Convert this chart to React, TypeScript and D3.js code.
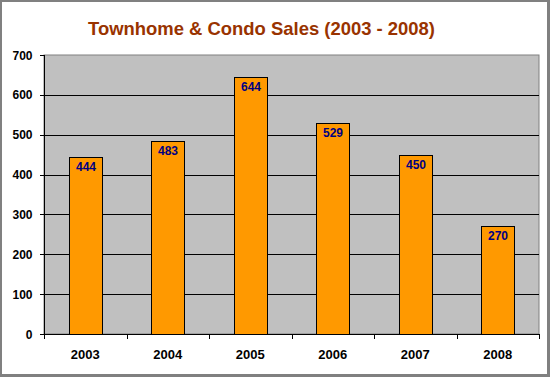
import React from "react";
import * as d3 from "d3";

const years = ["2003", "2004", "2005", "2006", "2007", "2008"];
const sales = [444, 483, 644, 529, 450, 270];
const yTicks = [0, 100, 200, 300, 400, 500, 600, 700];
const title = "Townhome & Condo Sales (2003 - 2008)";

export default function App() {
  const W = 550, H = 377;
  const left = 44, right = 539, top = 55, bottom = 334;
  const x = d3.scaleBand<string>().domain(years).range([left, right]).paddingInner(0.6).paddingOuter(0.3);
  const xb = d3.scaleBand<string>().domain(years).range([left, right]);
  const y = d3.scaleLinear().domain([0, 700]).range([bottom, top]);
  const font = "Arial, 'Liberation Sans', sans-serif";
  return (
    <svg width={W} height={H} style={{ position: "absolute", left: 0, top: 0 }} fontFamily={font}>
      <rect x={0} y={0} width={W} height={H} fill="#fff" />
      <rect x={1} y={1} width={W - 2.5} height={H - 2.5} fill="none" stroke="#808080" strokeWidth={2} />
      <rect x={547} y={0} width={3} height={H} fill="#808080" />
      <rect x={0} y={374} width={W} height={3} fill="#808080" />
      <text x={261.5} y={35} textAnchor="middle" fontSize={19} fontWeight="bold" fill="#993300" textLength={347} lengthAdjust="spacingAndGlyphs">{title}</text>
      <rect x={left} y={top} width={right - left} height={bottom - top} fill="#C0C0C0" stroke="#808080" strokeWidth={1} />
      {yTicks.filter(t => t > 0 && t < 700).map(t => (
        <line key={t} x1={left} x2={right} y1={Math.round(y(t)) + 0.5} y2={Math.round(y(t)) + 0.5} stroke="#000" />
      ))}
      {sales.map((v, i) => {
        const bx = Math.round(x(years[i])!) + 0.5;
        const by = Math.round(y(v)) + 0.5;
        const bw = Math.round(x.bandwidth());
        return (
          <g key={years[i]}>
            <rect x={bx} y={by} width={bw} height={bottom + 0.5 - by} fill="#FF9900" stroke="#000" />
            <text x={bx + bw / 2} y={by + 13} textAnchor="middle" fontSize={12} fontWeight="bold" fill="#000080">{v}</text>
          </g>
        );
      })}
      <line x1={left + 0.5} x2={left + 0.5} y1={top} y2={bottom + 0.5} stroke="#000" />
      <line x1={left} x2={right + 0.5} y1={bottom + 0.5} y2={bottom + 0.5} stroke="#000" />
      {yTicks.map(t => (
        <g key={t}>
          <line x1={left - 4} x2={left} y1={Math.round(y(t)) + 0.5} y2={Math.round(y(t)) + 0.5} stroke="#000" />
          <text x={32.5} y={y(t) + 4.5} textAnchor="end" fontSize={12} fontWeight="bold" fill="#000">{t}</text>
        </g>
      ))}
      {years.map((yr, i) => (
        <g key={yr}>
          <line x1={Math.round(xb(yr)!) + 0.5} x2={Math.round(xb(yr)!) + 0.5} y1={bottom} y2={bottom + 5} stroke="#000" />
          <text x={xb(yr)! + xb.bandwidth() / 2} y={359} textAnchor="middle" fontSize={13} fontWeight="bold" fill="#000">{yr}</text>
        </g>
      ))}
      <line x1={right + 0.5} x2={right + 0.5} y1={bottom} y2={bottom + 5} stroke="#000" />
    </svg>
  );
}
